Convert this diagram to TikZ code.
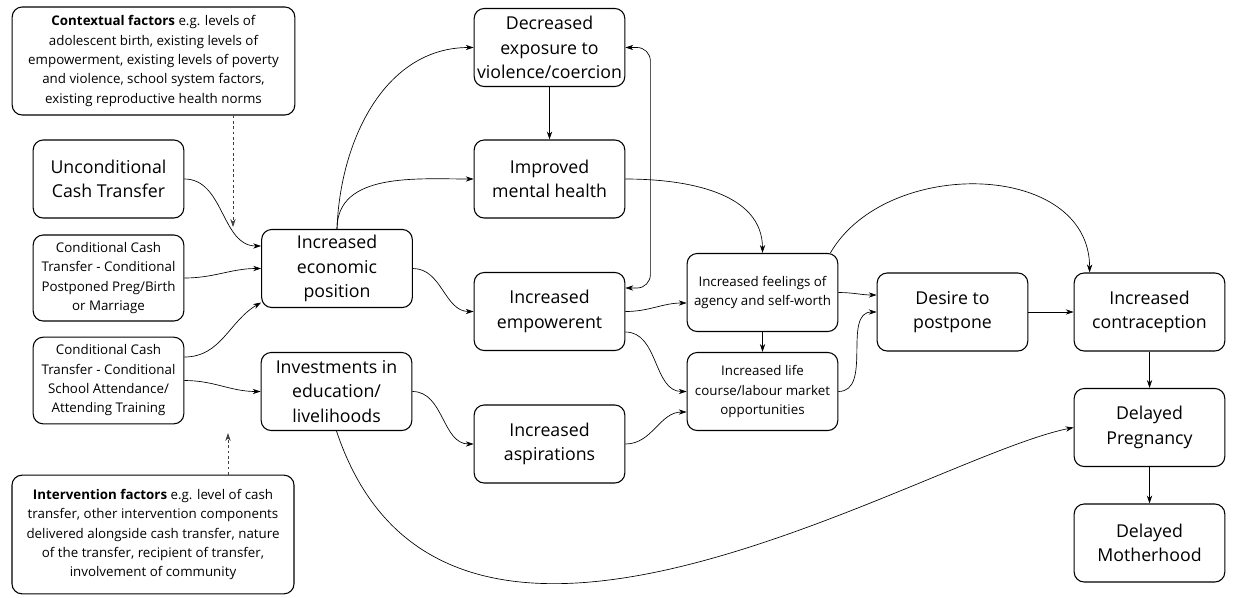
\documentclass[tikz,border=0pt]{standalone}
\usepackage{fontspec}
\setmainfont{Open Sans}
\usetikzlibrary{arrows.meta,calc}

\begin{document}
\begin{tikzpicture}[x=0.75pt, y=-0.75pt,
    >={Stealth[length=6pt,width=4pt]},
    box/.style={draw, line width=0.8pt, rounded corners=7.5pt, align=center,
        minimum width=113pt, minimum height=58.5pt, inner sep=2pt},
    big/.style={box, font=\fontsize{13.3}{18.3}\selectfont},
    small/.style={box, font=\fontsize{10}{14.5}\selectfont},
    link/.style={->, line width=0.5pt},
    factor/.style={->, line width=0.5pt, black!75, dash pattern=on 2pt off 2pt}]
    \useasboundingbox (0,0) rectangle (1233,597);

    % Context and intervention factors
    \node[small, minimum width=212pt, minimum height=81pt] (ctx) at (153.5,61)
        {\textbf{Contextual factors} e.g. levels of\\ adolescent birth, existing levels of\\
         empowerment, existing levels of poverty\\ and violence, school system factors,\\
         existing reproductive health norms};
    \node[small, minimum width=211.5pt, minimum height=89pt] (intv) at (153,534.5)
        {\textbf{Intervention factors} e.g. level of cash\\ transfer, other intervention components\\
         delivered alongside cash transfer, nature\\ of the transfer, recipient of transfer,\\
         involvement of community};

    % Cash transfers
    \node[big] (uct) at (108.5,179) {Unconditional\\Cash Transfer};
    \node[small, minimum height=64.5pt] (cctp) at (108.5,278)
        {Conditional Cash\\Transfer - Conditional\\Postponed Preg/Birth\\or Marriage};
    \node[small, minimum height=65pt] (ccts) at (108.5,380.5)
        {Conditional Cash\\Transfer - Conditional\\School Attendance/\\Attending Training};

    % First step
    \node[big] (econ) at (337,268.5) {Increased\\economic\\position};
    \node[big] (inv) at (336.5,391.5) {Investments in\\education/\\livelihoods};

    % Middle column
    \node[big] (dec) at (549.5,47.5) {Decreased\\exposure to\\violence/coercion};
    \node[big] (mh) at (549.5,179) {Improved\\mental health};
    \node[big] (emp) at (549.5,311.5) {Increased\\empowerent};
    \node[big] (asp) at (549.5,444) {Increased\\aspirations};

    \node[small] (feel) at (762.5,292.5) {Increased feelings of\\agency and self-worth};
    \node[small] (life) at (762.5,391.5) {Increased life\\course/labour market\\opportunities};

    % Outcomes
    \node[big] (des) at (952.5,312) {Desire to\\postpone};
    \node[big] (con) at (1149.5,312) {Increased\\contraception};
    \node[big] (preg) at (1149.5,427.5) {Delayed\\Pregnancy};
    \node[big] (moth) at (1149.5,543) {Delayed\\Motherhood};

    % Dotted factor arrows
    \coordinate (ctxend) at (233,227);
    \coordinate (intvend) at (228,433);
    \draw[factor] ($(ctx.south)+(79.5,0)$) -- (ctxend);
    \draw[factor] ($(intv.north)+(75,0)$) -- (intvend);

    % Transfers to first step
    \draw[link] (uct.east) to[out=0, in=180] ($(econ.west)+(0,-22.5)$);
    \draw[link] (cctp.east) to[out=0, in=180] (econ.west);
    \draw[link] ($(ccts.east)+(0,-23.5)$) to[out=0, in=210] ($(econ.west)+(0,34)$);
    \draw[link] (ccts.east) to[out=0, in=180] (inv.west);

    % Economic position
    \draw[link] (econ.north) to[out=88, in=180] (dec.west);
    \draw[link] (econ.north) to[out=90, in=180] (mh.west);
    \draw[link] (econ.east) to[out=0, in=180] (emp.west);
    \draw[link] (inv.east) to[out=0, in=180] (asp.west);

    % Straight down arrows
    \foreach \a/\b in {dec/mh, feel/life, con/preg, preg/moth}
        \draw[link] (\a.south) -- (\b.north);

    % Violence <-> empowerment
    \draw[<->, line width=0.5pt, rounded corners=10pt] (dec.east)
        -| ($(emp.east)+(25,-23.5)$) -- ($(emp.east)+(0,-23.5)$);

    % Into agency and opportunities
    \draw[link] (mh.east) to[out=0, in=90] (feel.north);
    \draw[link] (emp.east) to[out=0, in=180] ($(feel.west)+(0,10.5)$);
    \draw[link] ($(emp.east)+(0,20.5)$) to[out=0, in=180] (life.west);
    \draw[link] (asp.east) to[out=0, in=180] ($(life.west)+(0,20.5)$);

    % Towards postponement
    \draw[link] (feel.east) to[out=0, in=180] ($(des.west)+(0,-17)$);
    \draw[link] (life.east) to[out=0, in=180] (des.west);
    \draw[link] ($(feel.north east)+(-8,0)$) to[out=60, in=90, looseness=1.1]
        ($(con.north west)+(16,0)$);
    \draw[link] (des.east) -- (con.west);

    % Long way round to delayed pregnancy
    \draw[link] (inv.south) .. controls +(110,330) and +(-150,30) .. (preg.west);
\end{tikzpicture}
\end{document}
